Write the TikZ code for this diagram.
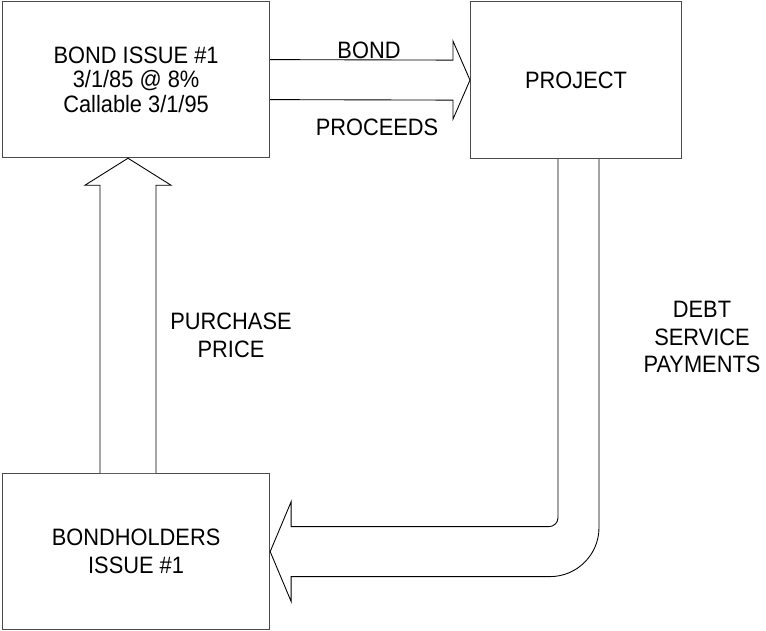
\documentclass[tikz,border=0pt]{standalone}
\usepackage{fontspec}
\setmainfont{Liberation Sans}[FakeStretch=0.92]
\usetikzlibrary{positioning, calc}
\definecolor{cframe}{HTML}{4A4A4A}
\tikzset{
  every picture/.style={font=\fontsize{13.5}{14}\selectfont, x=0.02cm, y=-0.02cm},
  box/.style={draw=cframe, line width=0.7pt, align=center, inner sep=0pt, anchor=north west},
  fat/.style={draw=black, line width=0.5pt, fill=white, line join=miter},
  tag/.style={align=center, inner sep=0pt},
}
\begin{document}
\begin{tikzpicture}
  \useasboundingbox (0,0) rectangle (766,630);
  % boxes
  \node[box, minimum width=5.34cm, minimum height=3.12cm] (issue) at (2,1) {BOND ISSUE \#1\\3/1/85 @ 8\%\\Callable 3/1/95};
  \node[box, minimum width=4.22cm, minimum height=3.14cm] (project) at (470,1) {PROJECT};
  \node[box, minimum width=5.34cm, minimum height=3.12cm, font=\fontsize{13.5}{16}\selectfont] (holders) at (2,473) {BONDHOLDERS\\ISSUE \#1};
  % bond / proceeds arrow
  \draw[fat] ($(issue.east)+(0,-20)$) -- ($(project.west)+(-17,-20)$) -- ($(project.west)+(-17,-39)$)
    -- (project.west) -- ($(project.west)+(-17,39)$) -- ($(project.west)+(-17,20)$) -- ($(issue.east)+(0,20)$);
  % purchase price arrow
  \coordinate (upx) at (128,0);
  \draw[fat] ($(upx |- holders.north)+(-28,0)$) -- ($(upx |- issue.south)+(-28,27)$) -- ($(upx |- issue.south)+(-43,27)$)
    -- (upx |- issue.south) -- ($(upx |- issue.south)+(43,27)$) -- ($(upx |- issue.south)+(28,27)$) -- ($(upx |- holders.north)+(28,0)$);
  % debt service arrow
  \coordinate (dnx) at (558,0);
  \draw[fat] (dnx |- project.south) -- ($(dnx |- holders.east)+(0,-34)$)
    .. controls ($(dnx |- holders.east)+(0,-29)$) and ($(dnx |- holders.east)+(-4,-25)$) .. ($(dnx |- holders.east)+(-9,-25)$)
    -- ($(holders.east)+(21,-25)$) -- ($(holders.east)+(21,-50)$) -- (holders.east) -- ($(holders.east)+(21,50)$)
    -- ($(holders.east)+(21,25)$) -- ($(dnx |- holders.east)+(-8,25)$)
    .. controls ($(dnx |- holders.east)+(19,25)$) and ($(dnx |- holders.east)+(41,3)$) .. ($(dnx |- holders.east)+(41,-24)$)
    -- ($(dnx |- project.south)+(41,0)$);
  % labels
  \node[tag] (bond) at (369,50) {BOND};
  \node[tag] (proceeds) at (377,127) {PROCEEDS};
  \node[tag, font=\fontsize{13.5}{16}\selectfont] (price) at (231,335) {PURCHASE\\PRICE};
  \node[tag, font=\fontsize{13.5}{15.5}\selectfont] (debt) at (702,337) {DEBT\\SERVICE\\PAYMENTS};
\end{tikzpicture}
\end{document}
